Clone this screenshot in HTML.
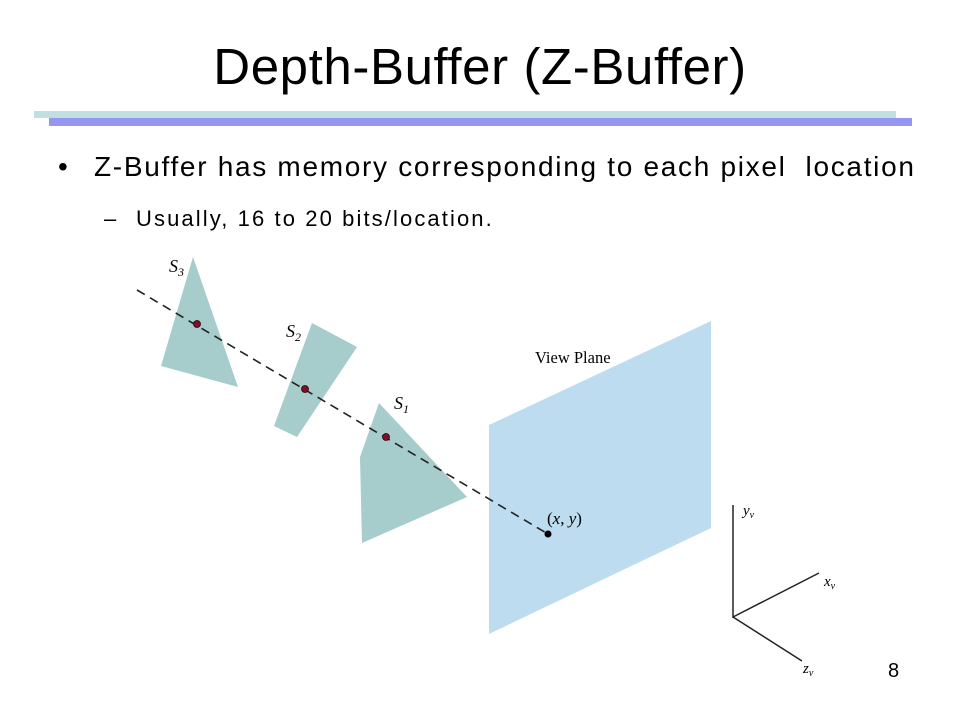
<!DOCTYPE html>
<html><head><meta charset="utf-8"><style>
html,body{margin:0;padding:0;background:#fff;}
body{width:960px;height:720px;position:relative;overflow:hidden;font-family:"Liberation Sans",sans-serif;}
.t{position:absolute;white-space:nowrap;color:#000;}
</style></head><body>
<div class="t" style="left:0;width:960px;text-align:center;top:37px;font-size:51px;letter-spacing:0.6px;">Depth-Buffer (Z-Buffer)</div>
<div style="position:absolute;left:34px;top:111px;width:862px;height:7px;background:#bfdfe0"></div>
<div style="position:absolute;left:49px;top:118px;width:863px;height:8px;background:#9696f0"></div>
<div class="t" style="left:58px;top:151px;font-size:28px;">•</div>
<div class="t" style="left:94px;top:151px;font-size:28px;letter-spacing:1.7px;">Z-Buffer has memory corresponding to each pixel&nbsp; location</div>
<div class="t" style="left:104px;top:206px;font-size:22px;">–</div>
<div class="t" style="left:136px;top:206px;font-size:22px;letter-spacing:2.1px;">Usually, 16 to 20 bits/location.</div>
<div class="t" style="left:888px;top:660px;font-size:20px;">8</div>
<svg width="960" height="720" style="position:absolute;left:0;top:0" font-family="Liberation Serif, serif">
<polygon points="489,425 711,321 711,528 489,634" fill="#bddcf0"/>
<polygon points="193,257 161,366 238,387" fill="#a6cccb"/>
<polygon points="312,323 357,347 297,437 274,426" fill="#a6cccb"/>
<polygon points="379,403 467,497 362,543 360,457" fill="#a6cccb"/>
<line x1="137" y1="290" x2="548" y2="534" stroke="#222" stroke-width="1.6" stroke-dasharray="9,6"/>
<circle cx="197" cy="324" r="3.5" fill="#7a1030" stroke="#300" stroke-width="0.8"/>
<circle cx="305" cy="389" r="3.5" fill="#7a1030" stroke="#300" stroke-width="0.8"/>
<circle cx="386" cy="437" r="3.5" fill="#7a1030" stroke="#300" stroke-width="0.8"/>
<circle cx="548" cy="534" r="3.5" fill="#000"/>
<text x="169" y="272" font-size="18" font-style="italic">S<tspan font-size="12" dy="4">3</tspan></text>
<text x="286" y="337" font-size="18" font-style="italic">S<tspan font-size="12" dy="4">2</tspan></text>
<text x="394" y="409" font-size="18" font-style="italic">S<tspan font-size="12" dy="4">1</tspan></text>
<text x="535" y="363" font-size="16.5">View Plane</text>
<text x="547" y="524" font-size="17">(<tspan font-style="italic">x</tspan>, <tspan font-style="italic">y</tspan>)</text>
<g stroke="#222" stroke-width="1.5">
<line x1="733" y1="505" x2="733" y2="618"/>
<line x1="733" y1="617" x2="819" y2="573"/>
<line x1="733" y1="617" x2="802" y2="661"/>
</g>
<text x="743" y="515" font-size="15" font-style="italic">y<tspan font-size="10" dy="3">v</tspan></text>
<text x="824" y="586" font-size="15" font-style="italic">x<tspan font-size="10" dy="3">v</tspan></text>
<text x="803" y="673" font-size="15" font-style="italic">z<tspan font-size="10" dy="3">v</tspan></text>
</svg>
</body></html>
